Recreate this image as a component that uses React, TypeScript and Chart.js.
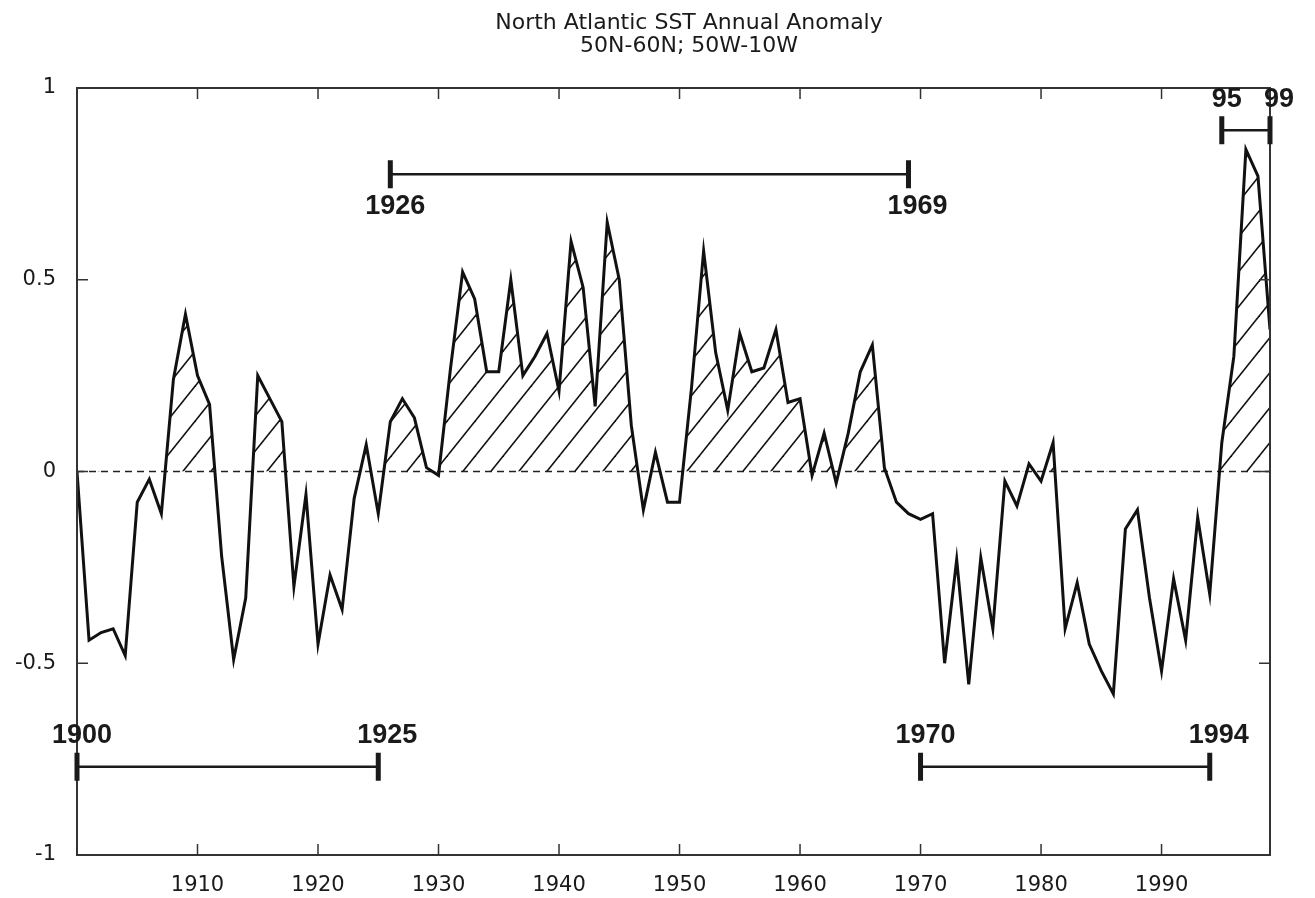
import React, { useEffect, useRef } from 'react';
import { Chart, registerables } from 'chart.js';

Chart.register(...registerables);

// ---- data ----
const years: number[] = [
  1900, 1901, 1902, 1903, 1904, 1905, 1906, 1907, 1908, 1909,
  1910, 1911, 1912, 1913, 1914, 1915, 1916, 1917, 1918, 1919,
  1920, 1921, 1922, 1923, 1924, 1925, 1926, 1927, 1928, 1929,
  1930, 1931, 1932, 1933, 1934, 1935, 1936, 1937, 1938, 1939,
  1940, 1941, 1942, 1943, 1944, 1945, 1946, 1947, 1948, 1949,
  1950, 1951, 1952, 1953, 1954, 1955, 1956, 1957, 1958, 1959,
  1960, 1961, 1962, 1963, 1964, 1965, 1966, 1967, 1968, 1969,
  1970, 1971, 1972, 1973, 1974, 1975, 1976, 1977, 1978, 1979,
  1980, 1981, 1982, 1983, 1984, 1985, 1986, 1987, 1988, 1989,
  1990, 1991, 1992, 1993, 1994, 1995, 1996, 1997, 1998, 1999,
];

const anomaly: number[] = [
  0.0, -0.44, -0.42, -0.41, -0.48, -0.08, -0.02, -0.11, 0.24, 0.41,
  0.25, 0.175, -0.22, -0.49, -0.33, 0.25, 0.19, 0.13, -0.3, -0.06,
  -0.45, -0.27, -0.36, -0.07, 0.07, -0.11, 0.13, 0.19, 0.14, 0.01,
  -0.01, 0.27, 0.52, 0.45, 0.26, 0.26, 0.5, 0.25, 0.3, 0.36,
  0.21, 0.6, 0.48, 0.17, 0.65, 0.5, 0.12, -0.1, 0.05, -0.08,
  -0.08, 0.22, 0.575, 0.31, 0.16, 0.36, 0.26, 0.27, 0.37, 0.18,
  0.19, -0.01, 0.1, -0.03, 0.1, 0.26, 0.33, 0.01, -0.08, -0.11,
  -0.125, -0.11, -0.5, -0.23, -0.555, -0.225, -0.41, -0.025, -0.09, 0.02,
  -0.025, 0.075, -0.41, -0.29, -0.45, -0.52, -0.58, -0.15, -0.1, -0.33,
  -0.52, -0.28, -0.44, -0.12, -0.32, 0.075, 0.3, 0.84, 0.77, 0.37,
];

const xTickValues: number[] = [1910, 1920, 1930, 1940, 1950, 1960, 1970, 1980, 1990];
const yTickValues: number[] = [-1, -0.5, 0, 0.5, 1];
const yTickLabels: string[] = ['-1', '-0.5', '0', '0.5', '1'];

const titleLines: string[] = ['North Atlantic SST Annual Anomaly', '50N-60N; 50W-10W'];

const periodStarts: number[] = [1926, 1900, 1970, 1995];
const periodEnds: number[] = [1969, 1925, 1994, 1999];
const periodStartLabels: string[] = ['1926', '1900', '1970', '95'];
const periodEndLabels: string[] = ['1969', '1925', '1994', '99'];

// ---- helpers ----
function makeHatch(): CanvasPattern | string {
  const w = 28;
  const h = 35;
  const c = document.createElement('canvas');
  c.width = w;
  c.height = h;
  const g = c.getContext('2d');
  if (!g) return 'rgba(0,0,0,0)';
  g.strokeStyle = '#111';
  g.lineWidth = 1.6;
  for (const off of [-w, 0, w]) {
    g.beginPath();
    g.moveTo(-w + off, 2 * h);
    g.lineTo(2 * w + off, -h);
    g.stroke();
  }
  const p = g.createPattern(c, 'repeat');
  return p || 'rgba(0,0,0,0)';
}

const decorPlugin = {
  id: 'decor',
  beforeDatasetsDraw(chart: any) {
    const { ctx, chartArea, scales } = chart;
    const y0 = scales.y.getPixelForValue(0);
    ctx.save();
    ctx.strokeStyle = '#222';
    ctx.lineWidth = 1.3;
    ctx.setLineDash([7, 5]);
    ctx.beginPath();
    ctx.moveTo(chartArea.left, y0);
    ctx.lineTo(chartArea.right, y0);
    ctx.stroke();
    ctx.restore();
  },
  afterDatasetsDraw(chart: any, _args: any, opts: any) {
    const { ctx, chartArea, scales } = chart;
    const { left, right, top, bottom } = chartArea;
    ctx.save();
    // frame
    ctx.strokeStyle = '#333';
    ctx.lineWidth = 2;
    ctx.strokeRect(left, top, right - left, bottom - top);
    // inward ticks
    ctx.lineWidth = 1.5;
    ctx.beginPath();
    for (const v of xTickValues) {
      const x = scales.x.getPixelForValue(v);
      ctx.moveTo(x, bottom);
      ctx.lineTo(x, bottom - 11);
      ctx.moveTo(x, top);
      ctx.lineTo(x, top + 11);
    }
    for (const v of yTickValues) {
      if (v === -1 || v === 1) continue;
      const y = scales.y.getPixelForValue(v);
      ctx.moveTo(left, y);
      ctx.lineTo(left + 11, y);
      ctx.moveTo(right, y);
      ctx.lineTo(right - 11, y);
    }
    ctx.stroke();

    // period brackets
    ctx.strokeStyle = '#1a1a1a';
    ctx.fillStyle = '#1a1a1a';
    ctx.font = 'bold 27px "Liberation Sans", Arial, sans-serif';
    ctx.textAlign = 'center';
    ctx.textBaseline = 'middle';
    periodStarts.forEach((s, i) => {
      const e = periodEnds[i];
      const yv = opts.levels[i];
      const y = scales.y.getPixelForValue(yv);
      const x1 = scales.x.getPixelForValue(s);
      const x2 = scales.x.getPixelForValue(e);
      ctx.lineWidth = 2.5;
      ctx.beginPath();
      ctx.moveTo(x1, y);
      ctx.lineTo(x2, y);
      ctx.stroke();
      ctx.lineWidth = 5;
      ctx.beginPath();
      ctx.moveTo(x1, y - 14);
      ctx.lineTo(x1, y + 14);
      ctx.moveTo(x2, y - 14);
      ctx.lineTo(x2, y + 14);
      ctx.stroke();
      const ly = opts.sides[i] === 'below' ? y + 32 : y - 31;
      ctx.fillText(periodStartLabels[i], x1 + 5, ly);
      ctx.fillText(periodEndLabels[i], x2 + 9, ly);
    });
    ctx.restore();
  },
  afterDraw(chart: any) {
    const { ctx } = chart;
    ctx.save();
    ctx.fillStyle = '#1a1a1a';
    ctx.font = '22px "DejaVu Sans", sans-serif';
    ctx.textAlign = 'center';
    ctx.textBaseline = 'middle';
    titleLines.forEach((t, i) => ctx.fillText(t, 689, 23 + i * 23));
    ctx.restore();
  },
};

export default function App() {
  const ref = useRef<HTMLCanvasElement | null>(null);

  useEffect(() => {
    document.body.style.margin = '0';
    document.body.style.background = '#fff';
    const canvas = ref.current;
    if (!canvas) return;
    const hatch = makeHatch();
    const chart = new Chart(canvas, {
      type: 'line',
      data: {
        datasets: [
          {
            data: years.map((y, i) => ({ x: y, y: anomaly[i] })),
            borderColor: '#111',
            borderWidth: 3,
            pointRadius: 0,
            tension: 0,
            backgroundColor: 'rgba(0,0,0,0)',
            fill: { target: { value: 0 }, above: hatch as any, below: 'rgba(0,0,0,0)' },
          } as any,
        ],
      },
      options: {
        animation: false,
        responsive: false,
        devicePixelRatio: 1,
        layout: { padding: { top: 88, right: 45, left: 0, bottom: 0 } },
        plugins: {
          legend: { display: false },
          tooltip: { enabled: false },
          title: { display: false },
          decor: { levels: [0.775, -0.77, -0.77, 0.89], sides: ['below', 'above', 'above', 'above'] },
        } as any,
        scales: {
          x: {
            type: 'linear',
            min: 1900,
            max: 1999,
            afterBuildTicks: (s: any) => {
              s.ticks = xTickValues.map((v) => ({ value: v }));
            },
            afterFit: (s: any) => {
              s.height = 43;
            },
            ticks: {
              font: { family: '"DejaVu Sans", sans-serif', size: 21 },
              color: '#1a1a1a',
              padding: 18,
              maxRotation: 0,
              autoSkip: false,
              callback: (v: any) => String(v),
            },
            grid: { display: false, drawTicks: false },
            border: { display: false },
          },
          y: {
            type: 'linear',
            min: -1,
            max: 1,
            afterBuildTicks: (s: any) => {
              s.ticks = yTickValues.map((v) => ({ value: v }));
            },
            afterFit: (s: any) => {
              s.width = 77;
            },
            ticks: {
              font: { family: '"DejaVu Sans", sans-serif', size: 21 },
              color: '#1a1a1a',
              padding: 21,
              autoSkip: false,
              callback: (v: any) => {
                const k = yTickValues.indexOf(Number(v));
                return k >= 0 ? yTickLabels[k] : '';
              },
            },
            grid: { display: false, drawTicks: false },
            border: { display: false },
          },
        },
      },
      plugins: [decorPlugin],
    });
    return () => chart.destroy();
  }, []);

  return (
    <div style={{ width: 1315, height: 898, background: '#fff' }}>
      <canvas ref={ref} width={1315} height={898} style={{ display: 'block' }} />
    </div>
  );
}
